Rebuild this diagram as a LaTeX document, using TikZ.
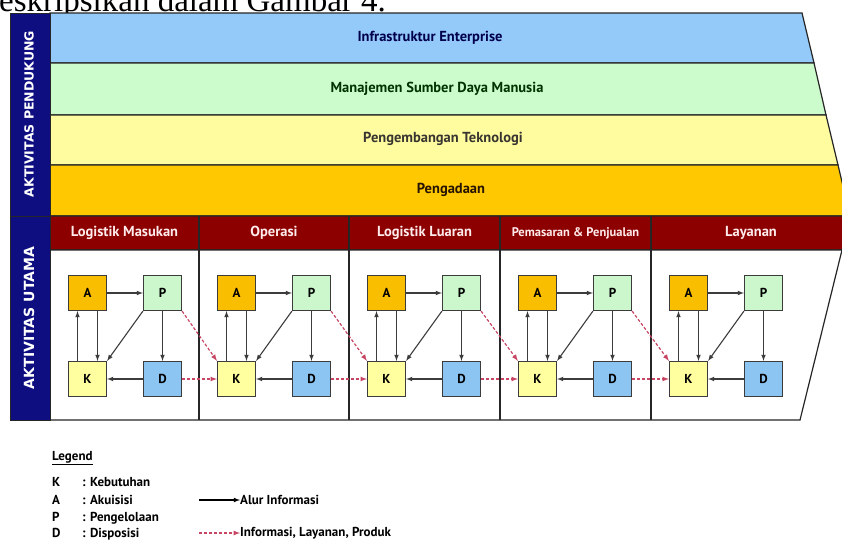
\documentclass[tikz,border=0pt]{standalone}
\usepackage{fontspec}
\setmainfont{Liberation Serif}
\newfontfamily\labelfont{PT Sans}
\newfontfamily\sidefont{DejaVu Sans}
\usetikzlibrary{arrows, calc}
\definecolor{navyside}{RGB}{14,14,128}
\definecolor{barblue}{RGB}{148,202,250}
\definecolor{bargreen}{RGB}{204,252,204}
\definecolor{baryellow}{RGB}{255,252,160}
\definecolor{barorange}{RGB}{255,200,0}
\definecolor{headred}{RGB}{140,0,0}
\definecolor{boxA}{RGB}{250,190,0}
\definecolor{boxP}{RGB}{204,246,204}
\definecolor{boxK}{RGB}{255,255,160}
\definecolor{boxD}{RGB}{140,196,242}
\definecolor{edgegray}{RGB}{60,60,60}
\definecolor{prodred}{RGB}{200,70,100}

\begin{document}
\begin{tikzpicture}[x=1pt, y=-1pt, >=latex, font=\labelfont\bfseries]%
            \tikzstyle{blk} = [ rectangle, draw = edgegray, line width = 1.2pt, minimum width = 38pt, minimum height = 35pt, inner sep = 0pt, font = \labelfont\bfseries\fontsize{13}{13}\selectfont]
            \tikzstyle{bar} = [ draw = black!85, line width = 1.2pt]
            \tikzstyle{bartxt} = [ font = \labelfont\bfseries\fontsize{14.5}{14.5}\selectfont]
            \tikzstyle{headtxt} = [ font = \labelfont\bfseries\fontsize{14.5}{14.5}\selectfont, text = red!8]
            \tikzstyle{sidetxt} = [ rotate = 90, font = \sidefont\bfseries\fontsize{12.5}{12.5}\selectfont, text = white]
            \tikzstyle{flow} = [ ->, draw = edgegray, line width = 1.1pt]
            \tikzstyle{prod} = [ ->, draw = prodred, line width = 1.2pt, dash pattern = on 3pt off 2pt]
            \tikzstyle{legtxt} = [ anchor = base west, inner sep = 0pt, font = \labelfont\bfseries\fontsize{13}{13}\selectfont]
        %%
            \useasboundingbox (0,0) rectangle (842,541);
            \clip (0,0) rectangle (842,541);
            \fill[white] (0,0) rectangle (842,541);

            %% Caption line cut off above
            \node [anchor = base west, inner sep = 0pt, font = \rmfamily\mdseries\fontsize{33}{33}\selectfont] (cap) at (-1,11) {eskripsikan dalam Gambar 4.};

            %% Support activities
            \filldraw[bar, fill = barblue] (50,13) -- (802,13) -- (814,63) -- (50,63) -- cycle;
            \filldraw[bar, fill = bargreen] (50,63) -- (814,63) -- (826,115) -- (50,115) -- cycle;
            \filldraw[bar, fill = baryellow] (50,115) -- (826,115) -- (838,165) -- (50,165) -- cycle;
            \filldraw[bar, fill = barorange] (50,165) -- (838,165) -- (850,216) -- (50,216) -- cycle;
            \node [bartxt, text = blue!30!black] (sup_infra) at (430,38) {Infrastruktur Enterprise};
            \node [bartxt, text = green!20!black] (sup_sdm) at (437,89) {Manajemen Sumber Daya Manusia};
            \node [bartxt, text = black!90!yellow] (sup_tek) at (443,139) {Pengembangan Teknologi};
            \node [bartxt, text = black!85!orange] (sup_ada) at (451,190) {Pengadaan};

            %% Primary activities
            \filldraw[bar, fill = headred] (50,216) -- (850,216) -- (842,250) -- (50,250) -- cycle;
            \filldraw[bar, fill = white] (50,250) -- (842,250) -- (800,420) -- (50,420) -- cycle;
            \foreach \x in {199, 349, 500, 651}
                \draw[bar] (\x,216) -- (\x,420);
            \node [headtxt] (head_1) at (124.5,233) {Logistik Masukan};
            \node [headtxt] (head_2) at (274,233) {Operasi};
            \node [headtxt] (head_3) at (424.5,233) {Logistik Luaran};
            \node [headtxt, font = \labelfont\bfseries\fontsize{12.5}{12.5}\selectfont] (head_4) at (575.5,233) {Pemasaran \& Penjualan};
            \node [headtxt] (head_5) at (751,233) {Layanan};

            %% Side labels
            \filldraw[fill = navyside, draw = black!85, line width = 1pt] (10,13) rectangle (50,216);
            \filldraw[fill = navyside, draw = black!85, line width = 1pt] (10,216) rectangle (50,420);
            \node [sidetxt] (side_sup) at (29,114) {AKTIVITAS PENDUKUNG};
            \node [sidetxt, font = \sidefont\bfseries\fontsize{14}{14}\selectfont] (side_main) at (29,318) {AKTIVITAS UTAMA};

            %% Blocks per activity
            \foreach \i/\x in {1/50, 2/199, 3/349, 4/500, 5/651} {
                \node [blk, fill = boxA] (a_\i) at (\x+37.5,293) {A};
                \node [blk, fill = boxP] (p_\i) at (\x+112.5,293) {P};
                \node [blk, fill = boxK] (k_\i) at (\x+37.5,379) {K};
                \node [blk, fill = boxD] (d_\i) at (\x+112.5,379) {D};

                \draw[flow] (a_\i) -- (p_\i);
                \draw[flow] ([xshift = -10pt]k_\i.north) -- ([xshift = -10pt]a_\i.south);
                \draw[flow] ([xshift = 10pt]a_\i.south) -- ([xshift = 10pt]k_\i.north);
                \draw[flow] (p_\i.south west) -- (k_\i.north east);
                \draw[flow] (p_\i) -- (d_\i);
                \draw[flow] (d_\i) -- (k_\i);
            }
            \foreach \i/\j in {1/2, 2/3, 3/4, 4/5} {
                \draw[prod] (p_\i.south east) -- (k_\j.north west);
                \draw[prod] (d_\i) -- (k_\j);
            }

            %% Legend
            \node [legtxt] (leg_title) at (52,460) {\underline{Legend}};
            \node [legtxt] (leg_k) at (52,486) {K};
            \node [legtxt] (leg_a) at (52,504) {A};
            \node [legtxt] (leg_p) at (52,521) {P};
            \node [legtxt] (leg_d) at (52,537) {D};
            \node [legtxt] (leg_k_txt) at (82,486) {: Kebutuhan};
            \node [legtxt] (leg_a_txt) at (82,504) {: Akuisisi};
            \node [legtxt] (leg_p_txt) at (82,521) {: Pengelolaan};
            \node [legtxt] (leg_d_txt) at (82,537) {: Disposisi};
            \coordinate (leg_flow) at (199,500);
            \coordinate (leg_prod) at (199,533);
            \node [legtxt, anchor = west] (leg_flow_txt) at (240,500) {Alur Informasi};
            \node [legtxt, anchor = west] (leg_prod_txt) at (240,533) {Informasi, Layanan, Produk};
            \draw[flow, draw = black] (leg_flow) -- (leg_flow_txt.west);
            \draw[prod] (leg_prod) -- (leg_prod_txt.west);
\end{tikzpicture}
\end{document}
